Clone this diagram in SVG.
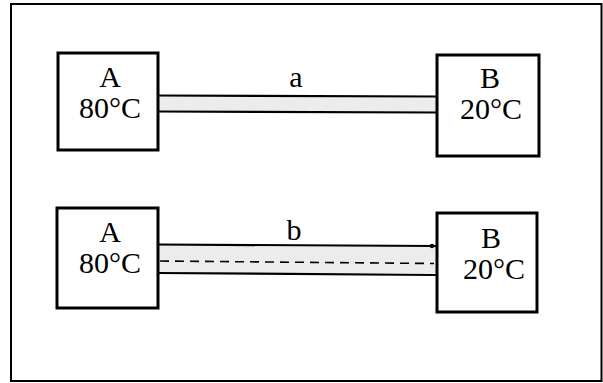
<svg xmlns="http://www.w3.org/2000/svg" width="603" height="383" viewBox="0 0 603 383">
<style>
.box{fill:#fff;stroke:#000;stroke-width:3}
.tube{fill:#ececec;stroke:none}
.wall{stroke:#000;stroke-width:2.2;fill:none}
.dash{stroke:#000;stroke-width:1.6;stroke-dasharray:9 6;fill:none}
.t{font-family:"Liberation Serif","Times New Roman",serif;font-size:30px;fill:#000;text-anchor:middle}
</style>
<rect x="0" y="0" width="603" height="383" fill="#fff"/>
<rect x="11" y="4" width="590.5" height="377" fill="none" stroke="#000" stroke-width="2"/>
<g id="connectors">
<g id="tube-a">
<rect class="tube" x="158" y="96" width="279" height="16"/>
<line class="wall" x1="158" y1="95.5" x2="437" y2="96.5"/>
<line class="wall" x1="158" y1="111.5" x2="437" y2="112.5"/>
<text class="t" x="296" y="87">a</text>
</g>
<g id="tube-b">
<rect class="tube" x="157" y="245" width="280" height="28"/>
<line class="wall" x1="157" y1="244.5" x2="437" y2="246"/>
<circle cx="432" cy="246" r="2.2" fill="#000"/>
<line class="wall" x1="157" y1="273" x2="437" y2="275"/>
<line class="dash" x1="160" y1="261" x2="434" y2="263.5"/>
<text class="t" x="294" y="240">b</text>
</g>
</g>
<g id="A1">
<rect class="box" x="58" y="53" width="100" height="97"/>
<text class="t" x="110" y="87">A</text>
<text class="t" x="110" y="118">80°C</text>
</g>
<g id="B1">
<rect class="box" x="437" y="55" width="102" height="101"/>
<text class="t" x="490" y="88">B</text>
<text class="t" x="491" y="119">20°C</text>
</g>
<g id="A2">
<rect class="box" x="57" y="208" width="101" height="100"/>
<text class="t" x="110" y="242">A</text>
<text class="t" x="110" y="273">80°C</text>
</g>
<g id="B2">
<rect class="box" x="437" y="213" width="100" height="99"/>
<text class="t" x="491" y="248">B</text>
<text class="t" x="494" y="279">20°C</text>
</g>
</svg>
